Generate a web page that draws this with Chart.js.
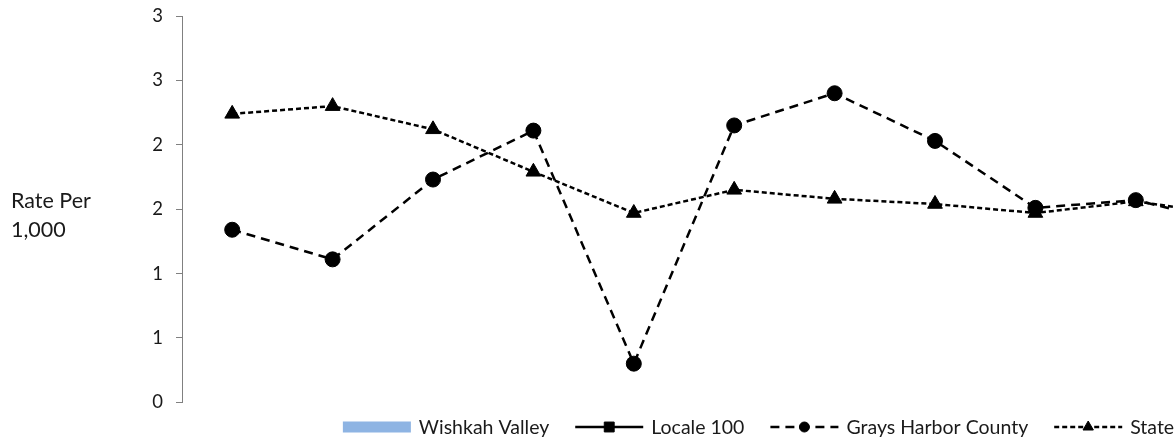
<!DOCTYPE html>
<html>
<head>
<meta charset="utf-8">
<script src="https://cdn.jsdelivr.net/npm/chart.js@4.4.1/dist/chart.umd.min.js"></script>
<style>
  html, body { margin: 0; padding: 0; background: #ffffff; overflow: hidden; width: 1174px; height: 438px; }
  #wrap { width: 1517px; height: 438px; position: relative; }
</style>
</head>
<body>
<div id="wrap"><canvas id="c" width="1517" height="438"></canvas></div>
<script>
// ---- data ----
const categories = ['1', '2', '3', '4', '5', '6', '7', '8', '9', '10', '11', '12', '13'];
const wishkahValley = [null, null, null, null, null, null, null, null, null, null, null, null, null];
const locale100 = [null, null, null, null, null, null, null, null, null, null, null, null, null];
const graysHarborCounty = [1.34, 1.11, 1.73, 2.11, 0.30, 2.15, 2.40, 2.03, 1.51, 1.57, 1.38, null, null];
const stateRate = [2.24, 2.30, 2.12, 1.79, 1.47, 1.65, 1.58, 1.54, 1.47, 1.56, 1.45, null, null];
const yTickLabels = ['0', '1', '1', '2', '2', '3', '3'];
const axisTitleLines = ['Rate Per', '1,000'];

const FONT = 'Lato, "Open Sans", sans-serif';
const TEXT = '#1a1a1a';

const sideTitlePlugin = {
  id: 'sideTitle',
  afterDraw(chart, args, opts) {
    const ctx = chart.ctx;
    ctx.save();
    ctx.font = opts.font;
    ctx.fillStyle = opts.color;
    ctx.textAlign = 'left';
    ctx.textBaseline = 'alphabetic';
    opts.lines.forEach((t, i) => ctx.fillText(t, opts.x, opts.y + i * opts.lineHeight));
    ctx.restore();
  }
};

const lineLegendPlugin = {
  id: 'lineLegend',
  afterDraw(chart, args, opts) {
    const ctx = chart.ctx;
    ctx.save();
    ctx.font = opts.font;
    const items = chart.data.datasets.map(ds => ({ ds, text: ds.label, w: ctx.measureText(ds.label).width }));
    const sw = opts.sampleWidth;
    const total = items.reduce((s, it) => s + sw + opts.textGap + it.w, 0) + opts.itemGap * (items.length - 1);
    let x = chart.width / 2 - total / 2;
    const y = opts.y;
    items.forEach(it => {
      const ds = it.ds;
      if (ds.type === 'bar') {
        ctx.fillStyle = ds.backgroundColor;
        ctx.fillRect(x, y - opts.swatchHeight / 2, sw, opts.swatchHeight);
      } else {
        ctx.save();
        ctx.strokeStyle = ds.borderColor;
        ctx.lineWidth = ds.borderWidth;
        ctx.setLineDash(ds.borderDash || []);
        ctx.beginPath();
        ctx.moveTo(x, y);
        ctx.lineTo(x + sw, y);
        ctx.stroke();
        ctx.setLineDash([]);
        ctx.fillStyle = ds.pointBackgroundColor;
        ctx.strokeStyle = ds.pointBorderColor;
        ctx.lineWidth = 1;
        Chart.helpers.drawPoint(ctx, { pointStyle: ds.pointStyle, radius: ds.legendMarkerRadius, rotation: 0, borderWidth: 1 }, x + sw / 2, y);
        ctx.restore();
      }
      x += sw + opts.textGap;
      ctx.fillStyle = opts.color;
      ctx.textAlign = 'left';
      ctx.textBaseline = 'middle';
      ctx.fillText(it.text, x, y + 1);
      x += it.w + opts.itemGap;
    });
    ctx.restore();
  }
};

function draw() {
  new Chart(document.getElementById('c'), {
    data: {
      labels: categories,
      datasets: [
        { type: 'bar', label: 'Wishkah Valley', data: wishkahValley, backgroundColor: '#8EB4E3', order: 4 },
        { type: 'line', label: 'Locale 100', data: locale100, borderColor: '#000000', borderWidth: 2.5,
          pointStyle: 'rect', pointRadius: 7, pointBackgroundColor: '#000000', pointBorderColor: '#000000', legendMarkerRadius: 7, order: 3 },
        { type: 'line', label: 'Grays Harbor County', data: graysHarborCounty, borderColor: '#000000', borderWidth: 2.5,
          borderDash: [9, 6], pointStyle: 'circle', pointRadius: 7.5, pointBackgroundColor: '#000000', pointBorderColor: '#000000',
          pointBorderWidth: 1, legendMarkerRadius: 5, order: 2 },
        { type: 'line', label: 'State', data: stateRate, borderColor: '#000000', borderWidth: 2.5,
          borderDash: [5, 3], pointStyle: 'triangle', pointRadius: 8.5, pointBackgroundColor: '#000000', pointBorderColor: '#000000',
          pointBorderWidth: 1, legendMarkerRadius: 6, order: 1 }
      ]
    },
    options: {
      responsive: false,
      animation: false,
      devicePixelRatio: 1,
      layout: { padding: { left: 0, right: 29.8, top: 16, bottom: 35.7 } },
      plugins: {
        legend: { display: false },
        tooltip: { enabled: false },
        lineLegend: { font: '19.5px ' + FONT, color: TEXT, y: 427, sampleWidth: 68, textGap: 8, itemGap: 26, swatchHeight: 11 },
        sideTitle: { font: '21.5px ' + FONT, color: TEXT, lines: axisTitleLines, x: 11, y: 208, lineHeight: 29 }
      },
      scales: {
        x: { display: false, offset: true },
        y: {
          min: 0, max: 3,
          afterFit(s) { s.width = 182; s.paddingTop = 0; s.paddingBottom = 0; },
          ticks: { stepSize: 0.5, padding: 13, color: TEXT, font: { family: FONT, size: 18.5 },
                   callback: (v, i) => yTickLabels[i] },
          grid: { display: true, drawOnChartArea: false, drawTicks: true, tickLength: 6, color: '#808080', lineWidth: 1 },
          border: { display: true, color: '#808080', width: 1 }
        }
      }
    },
    plugins: [lineLegendPlugin, sideTitlePlugin]
  });
}

if (document.fonts && document.fonts.load) {
  Promise.all([document.fonts.load('18px Lato')]).then(draw, draw);
} else {
  draw();
}
</script>
</body>
</html>
